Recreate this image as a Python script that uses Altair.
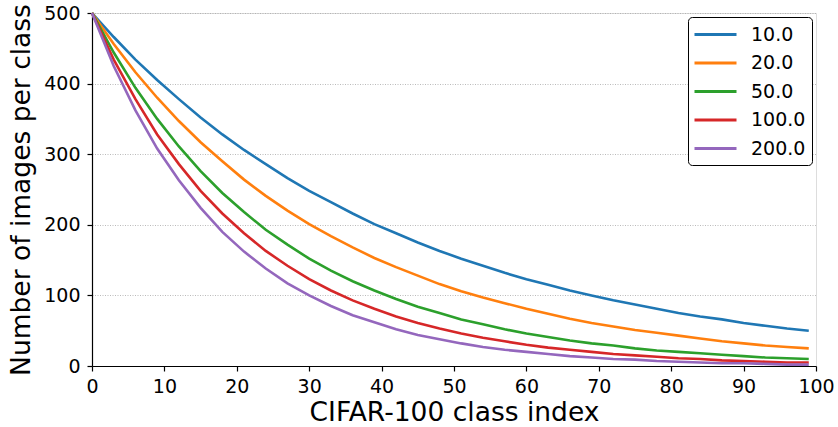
import altair as alt
import pandas as pd

# Class indices (every third class of CIFAR-100, plus the last)
class_index = list(range(0, 100, 3))

# Images per class for each imbalance ratio
n_10 = [500, 466, 434, 405, 378, 352, 328, 306, 286, 266, 248, 232, 216, 201, 188, 175, 163,
        152, 142, 132, 123, 115, 107, 100, 93, 87, 81, 75, 70, 66, 61, 57, 53, 50]
n_20 = [500, 456, 416, 380, 347, 317, 290, 264, 241, 220, 201, 184, 168, 153, 140, 128, 116,
        106, 97, 89, 81, 74, 67, 61, 56, 51, 47, 43, 39, 35, 32, 29, 27, 25]
n_50 = [500, 444, 394, 350, 311, 276, 245, 218, 193, 172, 152, 135, 120, 107, 95, 84, 75,
        66, 59, 52, 46, 41, 36, 32, 29, 25, 22, 20, 18, 16, 14, 12, 11, 10]
n_100 = [500, 434, 378, 328, 286, 248, 216, 188, 163, 142, 123, 107, 93, 81, 70, 61, 53,
         46, 40, 35, 30, 26, 23, 20, 17, 15, 13, 11, 10, 8, 7, 6, 5, 5]
n_200 = [500, 425, 362, 308, 263, 224, 190, 162, 138, 117, 100, 85, 72, 62, 52, 44, 38,
         32, 27, 23, 20, 17, 14, 12, 10, 9, 7, 6, 5, 4, 4, 3, 2, 2]

ratios = ["10.0", "20.0", "50.0", "100.0", "200.0"]
series = [n_10, n_20, n_50, n_100, n_200]
colors = ["#1f77b4", "#ff7f0e", "#2ca02c", "#d62728", "#9467bd"]

rows = []
for r, vals in zip(ratios, series):
    for i, v in zip(class_index, vals):
        rows.append({"idx": i, "count": v, "ratio": r})
df = pd.DataFrame(rows)

FONT = "DejaVu Sans"

axis_style = dict(
    labelFont=FONT, titleFont=FONT, titleFontWeight="normal", titleFontSize=26.5,
    labelColor="black", titleColor="black",
    domainColor="black", tickColor="black", domainWidth=1.2, tickWidth=1.2,
    labelFontSize=19, tickSize=5, labelFlush=False, labelOverlap=False,
)

chart = alt.Chart(df).mark_line(strokeWidth=2.6).encode(
    x=alt.X("idx:Q", title="CIFAR-100 class index",
            scale=alt.Scale(domain=[0, 100], nice=False, zero=False),
            axis=alt.Axis(values=list(range(0, 101, 10)), grid=False,
                          labelPadding=6, titlePadding=3, **axis_style)),
    y=alt.Y("count:Q", title="Number of images per class",
            scale=alt.Scale(domain=[0, 500], nice=False),
            axis=alt.Axis(values=list(range(0, 501, 100)), grid=True,
                          gridDash=[1, 1.5], gridColor="#a8a8a8", gridWidth=0.8,
                          labelPadding=7, titlePadding=8, **axis_style)),
    color=alt.Color("ratio:N", sort=ratios,
                    scale=alt.Scale(domain=ratios, range=colors),
                    legend=alt.Legend(title=None, orient="none", legendX=596, legendY=4,
                                      labelFontSize=19, labelFont=FONT, labelColor="black",
                                      symbolType="M-2.1,0H2.1", symbolStrokeWidth=3,
                                      symbolSize=400, symbolOffset=10, labelOffset=24,
                                      rowPadding=6.5, padding=6, cornerRadius=4,
                                      strokeColor="black", fillColor="white")),
    order="idx:Q",
).properties(
    width=724, height=353,
    padding={"left": 92, "top": 13, "right": 22, "bottom": 61},
    autosize=alt.AutoSizeParams(type="none"),
).configure_view(
    stroke="black", strokeWidth=1.2,
).configure(background="white")

chart.save("out.html", embed_options={"renderer": "svg", "actions": False})
